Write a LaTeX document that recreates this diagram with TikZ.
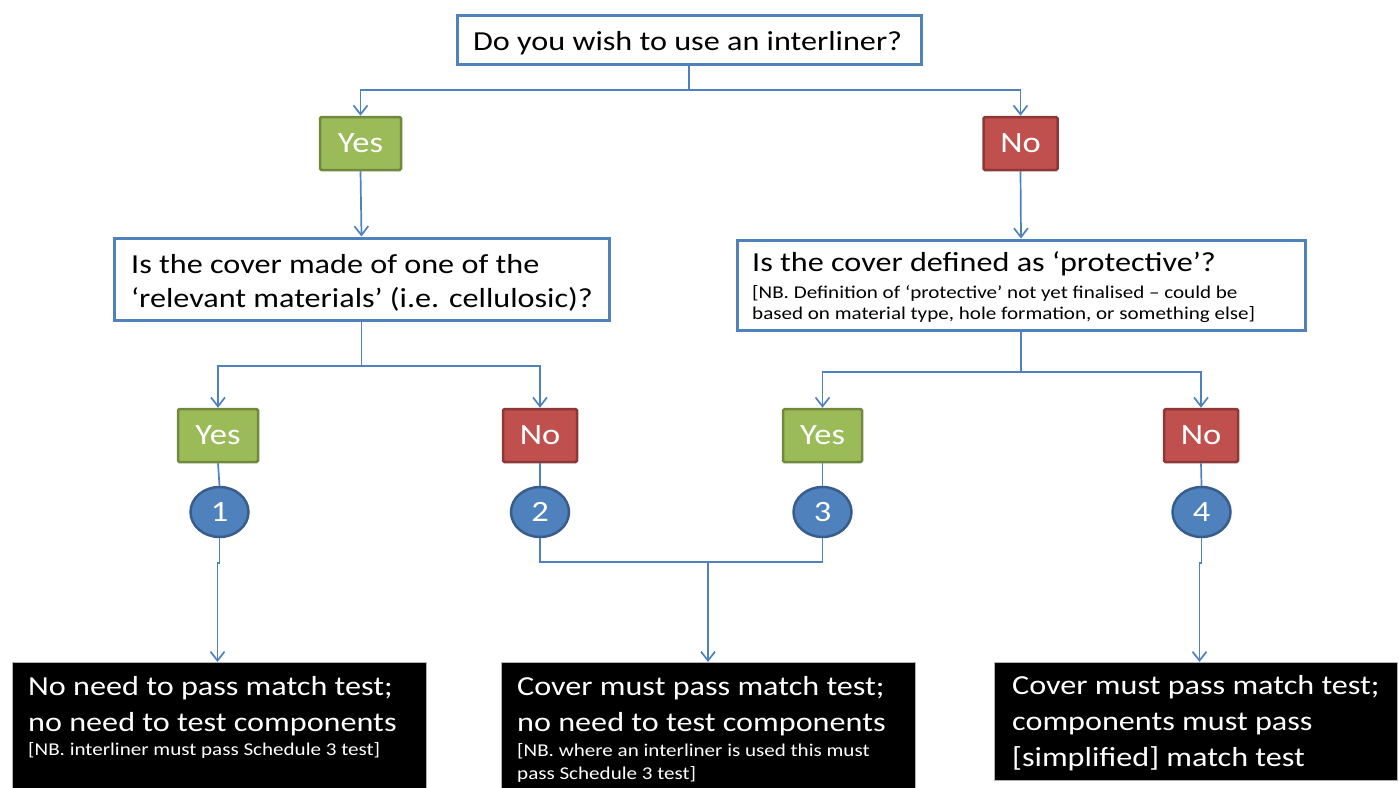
\documentclass[tikz,border=0pt]{standalone}
\usepackage{fontspec}
\setmainfont[FakeStretch=1.17]{Carlito}
\usetikzlibrary{arrows.meta,shapes.geometric,calc}
\definecolor{boxblue}{HTML}{4F81BD}
\definecolor{greenfill}{HTML}{9BBB59}
\definecolor{greenline}{HTML}{71893F}
\definecolor{redfill}{HTML}{C0504D}
\definecolor{redline}{HTML}{8C3836}
\definecolor{circline}{HTML}{385D8A}
\tikzset{
  qbox/.style={draw=boxblue, line width=3pt, fill=white, inner sep=0pt},
  qtext/.style={inner sep=0pt, anchor=base west},
  yesbox/.style={draw=greenline, line width=2.5pt, fill=greenfill, text=white, rounded corners=1.5pt, inner sep=0pt, minimum height=53pt, font=\fontsize{29.5}{33}\selectfont},
  nobox/.style={draw=redline, line width=2.5pt, fill=redfill, text=white, rounded corners=1.5pt, inner sep=0pt, minimum height=53pt, font=\fontsize{29.5}{33}\selectfont},
  numcirc/.style={ellipse, draw=circline, line width=2.5pt, fill=boxblue, text=white, inner sep=0pt, minimum width=58pt, minimum height=50pt, font=\fontsize{29.5}{33}\selectfont},
  endbox/.style={fill=black, draw=gray!60, line width=0.6pt, inner sep=0pt},
  endtext/.style={text=white, inner sep=0pt, anchor=base west},
  conn/.style={draw=boxblue, line width=1.7pt},
  arr/.style={conn, -{Straight Barb[length=9pt,width=14pt,line width=1.7pt]}},
}
\newcommand{\smalltxt}{\fontsize{18}{21}\selectfont}
\newcommand{\txtblock}[1]{\parbox[t]{700pt}{\raggedright #1}}
\begin{document}
\begin{tikzpicture}[x=1pt,y=-1pt]
\useasboundingbox (0,0) rectangle (1399,787);

% question boxes
\node[qbox, minimum width=464pt, minimum height=49pt] (q0) at (689,39.5) {};
\node[qtext] (q0t) at (473,50) {\txtblock{\fontsize{27.5}{34}\selectfont Do you wish to use an interliner?}};

\node[qbox, minimum width=495pt, minimum height=82pt] (q1) at (361.5,279) {};
\node[qtext] (q1t) at (131,273) {\txtblock{\fontsize{27.5}{34}\selectfont Is the cover made of one of the\\ ‘relevant materials’ (i.e. cellulosic)?\par}};

\node[qbox, minimum width=568pt, minimum height=90pt] (q2) at (1021,285) {};
\node[qtext] (q2t) at (752,271) {\txtblock{{\fontsize{27.5}{34}\selectfont Is the cover defined as ‘protective’?\par}\vspace{6pt}{\smalltxt [NB. Definition of ‘protective’ not yet finalised – could be\\ based on material type, hole formation, or something else]\par}}};

% yes/no level 1
\node[yesbox, minimum width=81pt] (y0) at (360.5,143.5) {Yes};
\node[nobox, minimum width=74pt] (n0) at (1020.5,143.5) {No};

% yes/no level 2
\node[yesbox, minimum width=80pt] (y1) at (218,435.5) {Yes};
\node[nobox, minimum width=74pt] (n1) at (540,435.5) {No};
\node[yesbox, minimum width=79pt] (y2) at (822.5,435.5) {Yes};
\node[nobox, minimum width=74pt] (n2) at (1201,435.5) {No};

% circles
\node[numcirc] (c1) at (219.5,512) {1};
\node[numcirc] (c2) at (540,512) {2};
\node[numcirc] (c3) at (822.5,512) {3};
\node[numcirc] (c4) at (1201.5,512) {4};

% end boxes
\node[endbox, minimum width=414pt, minimum height=130pt, anchor=north west] (e1) at (12,662) {};
\node[endbox, minimum width=414pt, minimum height=130pt, anchor=north west] (e2) at (501,662) {};
\node[endbox, minimum width=403pt, minimum height=118pt, anchor=north west] (e3) at (994,662) {};

\node[endtext] (t1) at (28,695) {\txtblock{{\fontsize{27.5}{36}\selectfont No need to pass match test;\\ no need to test components\par}\vspace{3pt}{\smalltxt [NB. interliner must pass Schedule 3 test]\par}}};
\node[endtext] (t2) at (517,695) {\txtblock{{\fontsize{27.5}{36}\selectfont Cover must pass match test;\\ no need to test components\par}\vspace{2pt}{\fontsize{18}{23}\selectfont [NB. where an interliner is used this must\\ pass Schedule 3 test]\par}}};
\node[endtext] (t3) at (1012,694) {\txtblock{\fontsize{27.5}{36}\selectfont Cover must pass match test;\\ components must pass\\ \relax[simplified] match test\par}};

% connectors
\coordinate (j0) at (689,90);
\draw[conn] (q0.south) -- (j0);
\draw[arr] (j0) -| (y0.north);
\draw[arr] (j0) -| (n0.north);
\draw[arr] (y0.south) -- (q1.north);
\draw[arr] (n0.south) -- (q2.north);

\coordinate (j1) at (361.5,366);
\draw[conn] (q1.south) -- (j1);
\draw[arr] (j1) -| (y1.north);
\draw[arr] (j1) -| (n1.north);

\coordinate (j2) at (1021,372);
\draw[conn] (q2.south) -- (j2);
\draw[arr] (j2) -| (y2.north);
\draw[arr] (j2) -| (n2.north);

\draw[conn] (y1.south) -- (c1.north);
\draw[conn] (n1.south) -- (c2.north);
\draw[conn] (y2.south) -- (c3.north);
\draw[conn] (n2.south) -- (c4.north);

\coordinate (k1) at (219.5,563);
\coordinate (k1b) at (217.5,563);
\draw[arr] (c1.south) -- (k1) -- (k1b) -- (k1b |- e1.north);
\coordinate (k4) at (1201.5,563);
\coordinate (k4b) at (1199.5,563);
\draw[arr] (c4.south) -- (k4) -- (k4b) -- (k4b |- e3.north);

\coordinate (k2) at (540,562);
\coordinate (k3) at (822.5,562);
\coordinate (km) at (708,562);
\draw[conn] (c2.south) -- (k2) -- (k3) -- (c3.south);
\draw[arr] (km) -- (km |- e2.north);
\end{tikzpicture}
\end{document}
